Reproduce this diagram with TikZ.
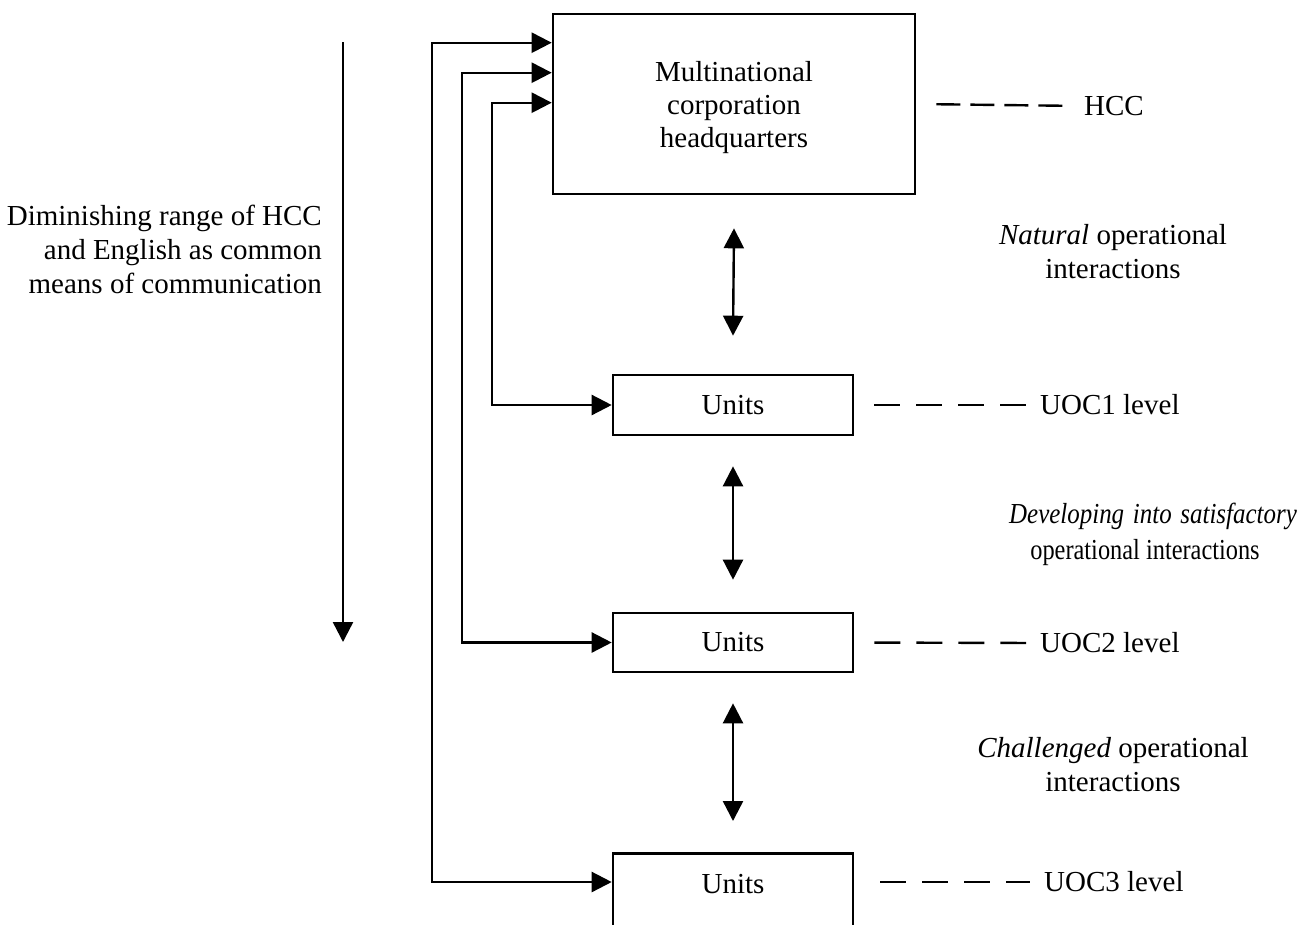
\documentclass[tikz,border=0pt]{standalone}
\usepackage{fontspec}
\setmainfont{Liberation Serif}
\usetikzlibrary{arrows.meta,calc}
\begin{document}
\begin{tikzpicture}[x=1pt,y=-1pt,
  every node/.style={font=\fontsize{29}{34}\selectfont},
  box/.style={draw,line width=2.6pt,inner sep=0pt},
  ln/.style={line width=2.4pt},
  tip/.style={-{Triangle[length=20pt,width=20pt]}},
  fb/.style={line width=2.4pt,{Triangle[length=20pt,width=20pt]}-{Triangle[length=20pt,width=20pt]}},
  levh/.style={line width=2.4pt,dash pattern=on 24pt off 10pt},
  lev/.style={line width=2.4pt,dash pattern=on 26pt off 16pt},
  lbl/.style={anchor=west,inner sep=0pt}
  ]
\useasboundingbox (0,0) rectangle (1305,924);
\clip (0,0) rectangle (1305,924);
\fill[white] (0,0) rectangle (1305,924);

% main boxes
\node[box,minimum width=362pt,minimum height=180pt,align=center,font=\fontsize{29}{33}\selectfont] (hq) at (734,104) {\rule{0pt}{27pt}Multinational\\corporation\\headquarters};
\node[box,minimum width=240pt,minimum height=60pt] (u1) at (733,405) {Units};
\node[box,minimum width=240pt,minimum height=59pt] (u2) at (733,642.5) {Units};
\node[box,anchor=north,minimum width=240pt,inner ysep=8pt,text height=32pt,text depth=70pt] (u3) at (733,852) {Units};

% level labels
\node[lbl] (lhcc) at (1084,106) {HCC};
\node[lbl] (l1) at (1040,405) {UOC1 level};
\node[lbl] (l2) at (1040,643) {UOC2 level};
\node[lbl] (l3) at (1044,882) {UOC3 level};
\draw[levh,shorten <=20pt,shorten >=21pt] (hq.east) -- (lhcc.west);
\draw[lev,shorten <=20pt,shorten >=14pt] (u1.east) -- (l1.west);
\draw[lev,shorten <=20pt,shorten >=14pt] (u2.east) -- (l2.west);
\draw[lev,shorten <=26pt,shorten >=14pt] ($(u3.north east)+(0,30)$) -- (l3.west);

% interaction labels
\node[align=center] (t1) at (1113,252) {\textit{Natural} operational\\interactions};
\node[anchor=east,inner sep=0pt] (t2a) at (1297,516) {\scalebox{0.86}[1]{\itshape Developing\hspace{0.35em}into\hspace{0.35em}satisfactory}};
\node (t2b) at (1145,553) {\scalebox{0.84}[1]{operational interactions}};
\node[align=center] (t3) at (1113,765) {\textit{Challenged} operational\\interactions};

% left label and arrow
\node[align=right,anchor=east,inner sep=0pt] (lt) at (322,249) {Diminishing range of HCC\\and English as common\\means of communication};
\coordinate (la1) at (343,42);
\coordinate (la2) at (343,642);
\draw[ln,tip] (la1) -- (la2);

% vertical double arrows
\draw[fb] ($(hq.south)+(0,33)$) -- ($(u1.north)+(0,-38)$);
\draw[fb] ($(u1.south)+(0,30)$) -- ($(u2.north)+(0,-32)$);
\draw[fb] ($(u2.south)+(0,30)$) -- ($(u3.north)+(0,-31)$);

% feedback connectors
\draw[fb] ($(hq.north west)+(0,30)$) -| ($(u3.north west)+(-180,30)$) -- ($(u3.north west)+(0,30)$);
\draw[fb] ($(hq.north west)+(0,60)$) -| ($(u2.west)+(-150,0)$) -- (u2.west);
\draw[fb] ($(hq.north west)+(0,90)$) -| ($(u1.west)+(-120,0)$) -- (u1.west);
\end{tikzpicture}
\end{document}
